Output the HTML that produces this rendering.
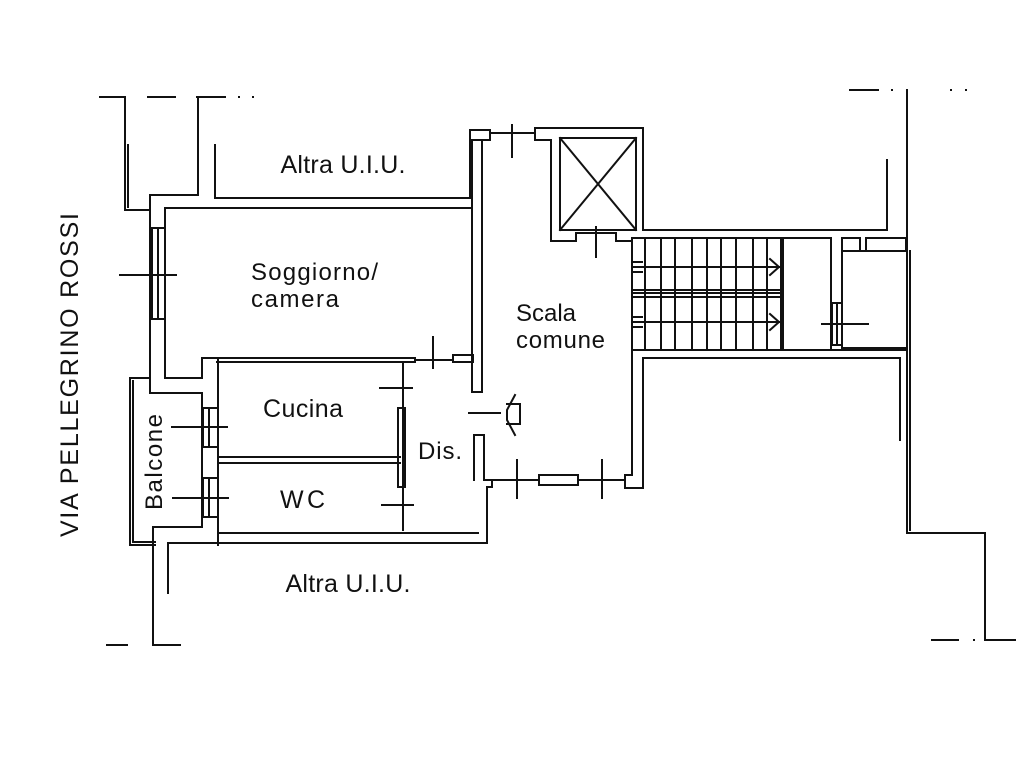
<!DOCTYPE html>
<html><head><meta charset="utf-8"><style>
html,body{margin:0;padding:0;background:#fff;}
svg{display:block;}
text{font-family:"Liberation Sans",sans-serif;fill:#111;}
</style></head><body>
<svg width="1033" height="781" viewBox="0 0 1033 781" xmlns="http://www.w3.org/2000/svg">
<g fill="none" stroke="#111" stroke-width="2" stroke-linecap="square">
<path d="M100 97 H125 M148 97 H175 M197 97 H225"/>
<path d="M125 97 V210 H150"/>
<path d="M128 145 V207"/>
<path d="M198 97 V195 H150 V393 H202 V527 H153 V645 H180"/>
<path d="M215 145 V198 H470 V130 H490 V140 H482 V392"/>
<path d="M165 208 H472 V358"/>
<path d="M165 208 V378 H202 V358 H415"/>
<path d="M217 362 H415"/>
<path d="M415 358 V362"/>
<rect x="152" y="228" width="13" height="91"/>
<path d="M158 228 V319"/>
<path d="M120 275 H176"/>
<path d="M150 378 H130 V545 H155"/>
<path d="M133 381 V542 H155"/>
<path d="M218 358 V545"/>
<rect x="203" y="408" width="15" height="39"/>
<rect x="203" y="478" width="15" height="39"/>
<path d="M209 408 V447 M209 478 V517"/>
<path d="M172 427 H227 M173 498 H228"/>
<path d="M218 457 H400 M218 463 H400"/>
<path d="M403 362 V530"/>
<rect x="398" y="408" width="7" height="79"/>
<path d="M380 388 H412 M382 505 H413"/>
<path d="M218 533 H478 M168 543 H487 V487 H492 V480 H484 V435 H474 V480 M168 543 V593"/>
<path d="M433 337 V368 M415 360 H453"/>
<rect x="453" y="355" width="20" height="7"/>
<rect x="472" y="140" width="10" height="252"/>
<path d="M469 413 H500"/>
<path d="M515 395 L507 410 V420 L515 435 M507 404 H520 V424 H507"/>
<path d="M492 480 H539 M578 480 H625 M517 460 V498 M602 460 V498"/>
<rect x="539" y="475" width="39" height="10"/>
<path d="M625 480 V488 H643 V358 M625 480 V475 H632 V350"/>
<path d="M490 133 H535 V128 H643 V230 H887 V160"/>
<path d="M512 125 V157"/>
<path d="M535 133 V140 H551 V241 H576 V233"/>
<path d="M596 227 V257 M576 233 H616 M616 233 V241 H632"/>
<rect x="560" y="138" width="76" height="92"/>
<path d="M560 138 L636 230 M636 138 L560 230"/>
<path d="M632 238 H831 V348 M632 238 V350 H907"/>
<path d="M632 290 H783 M632 293 H783 M632 297 H783 M783 238 V348"/>
<path d="M645 238 V348 M661 238 V348 M675 238 V348 M692 238 V348 M707 238 V348 M721 238 V348 M736 238 V348 M753 238 V348 M767 238 V348 M781 238 V348"/>
<path d="M634 267 H779 M770 259 L779 267 L770 275 M634 322 H779 M770 314 L779 322 L770 330"/>
<path d="M634 262 H642 M634 272 H642 M634 317 H642 M634 327 H642"/>
<rect x="842" y="238" width="18" height="13"/>
<rect x="866" y="238" width="40" height="13"/>
<path d="M842 251 V348 H907 M842 251 H907"/>
<rect x="832" y="303" width="10" height="42"/>
<path d="M837 303 V345 M822 324 H868"/>
<path d="M643 358 H900 V440"/>
<path d="M850 90 H878 M907 90 V533 H985 V640 H1015 M932 640 H958"/>
<path d="M910 251 V530"/>
</g>
<g fill="#111">
<rect x="891" y="89" width="2" height="2"/><rect x="950" y="89" width="2" height="2"/><rect x="965" y="89" width="2" height="2"/>
<rect x="238" y="96" width="2" height="2"/><rect x="252" y="96" width="2" height="2"/>
<rect x="973" y="639" width="2" height="2"/>
<rect x="106" y="644" width="22" height="2"/>
</g>
<text x="343" y="173" font-size="25" text-anchor="middle" textLength="125">Altra U.I.U.</text>
<text x="348" y="592" font-size="25" text-anchor="middle" textLength="125">Altra U.I.U.</text>
<text x="251" y="280" font-size="24" textLength="127">Soggiorno/</text>
<text x="251" y="307" font-size="24" textLength="88">camera</text>
<text x="263" y="417" font-size="25" textLength="80">Cucina</text>
<text x="280" y="508" font-size="25" textLength="45">WC</text>
<text x="418" y="459" font-size="24" textLength="44">Dis.</text>
<text x="516" y="321" font-size="24" textLength="60">Scala</text>
<text x="516" y="348" font-size="24" textLength="89">comune</text>
<text transform="translate(162,510) rotate(-90)" font-size="24" textLength="96">Balcone</text>
<text transform="translate(78,537) rotate(-90)" font-size="25" textLength="324">VIA PELLEGRINO ROSSI</text>
</svg>
</body></html>
